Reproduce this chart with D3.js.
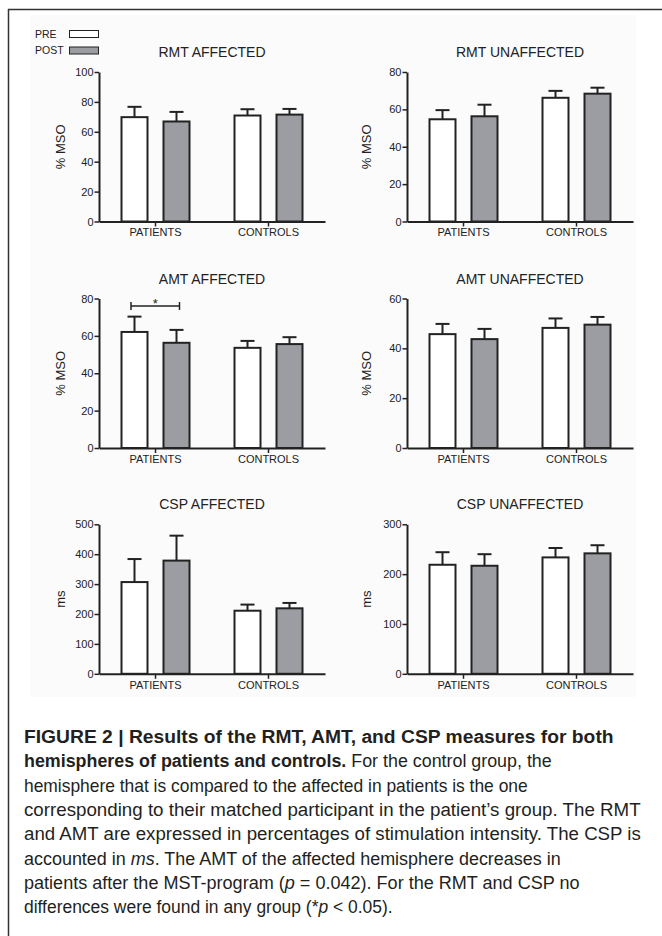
<!DOCTYPE html>
<html>
<head>
<meta charset="utf-8">
<script src="https://cdn.jsdelivr.net/npm/d3@7"></script>
<style>
  html, body { margin: 0; padding: 0; background: #fff; }
  svg { display: block; }
</style>
</head>
<body>
<svg id="fig" width="662" height="936"></svg>
<script>
// ---------------- DATA ----------------
const categories = ['PATIENTS', 'CONTROLS'];
const seriesNames = ['PRE', 'POST'];
const panelTitles = ['RMT AFFECTED', 'RMT UNAFFECTED', 'AMT AFFECTED', 'AMT UNAFFECTED', 'CSP AFFECTED', 'CSP UNAFFECTED'];
const yTitles = ['% MSO', '% MSO', '% MSO', '% MSO', 'ms', 'ms'];
const yTicks = [
  [0, 20, 40, 60, 80, 100],
  [0, 20, 40, 60, 80],
  [0, 20, 40, 60, 80],
  [0, 20, 40, 60],
  [0, 100, 200, 300, 400, 500],
  [0, 100, 200, 300]
];
// means per panel: [PATIENTS, CONTROLS]
const preMean  = [[69.8, 70.9], [54.7, 66.2], [62.1, 53.6], [45.7, 48.2], [306.8, 211.0], [218.8, 233.6]];
const preErr   = [[6.9, 4.2],   [4.9, 3.7],   [8.2, 3.7],   [4.1, 3.8],   [77.0, 20.5],   [25.2, 18.8]];
const postMean = [[66.9, 71.5], [56.3, 68.4], [56.3, 55.6], [43.7, 49.5], [378.6, 219.0], [216.8, 241.7]];
const postErr  = [[6.4, 3.8],   [6.2, 3.2],   [6.9, 3.7],   [4.1, 3.1],   [83.4, 18.0],   [23.2, 16.3]];
// significance bracket
const sigPanel = 2;
const sigCategory = 'PATIENTS';
const sigLevel = 76;
const sigLabel = '*';

// ---------------- LAYOUT ----------------
const svg = d3.select('#fig');
const FONT = "'Liberation Sans', Arial, sans-serif";
const INK = '#222';
const POSTFILL = '#9b9da2';
const colX = [99, 407];
const rowTop = [72, 298.5, 524.3];
const plotW = 226, plotH = 149.5;
const yTitleOff = [-39, -41];

// figure frame and chart background
svg.append('rect').attr('x', 30).attr('y', 15).attr('width', 606).attr('height', 682).attr('fill', '#fbfbfb');
svg.append('line').attr('x1', 8).attr('x2', 662).attr('y1', 9.5).attr('y2', 9.5).attr('stroke', '#333').attr('stroke-width', 1.5);
svg.append('line').attr('x1', 8.5).attr('x2', 8.5).attr('y1', 9).attr('y2', 936).attr('stroke', '#333').attr('stroke-width', 1.5);

// legend
const legend = svg.append('g');
seriesNames.forEach((s, i) => {
  const yy = 30.5 + i * 16.5;
  legend.append('text').attr('x', 35).attr('y', yy + 7).text(s)
    .attr('font-family', FONT).attr('font-size', 10.5).attr('fill', INK);
  legend.append('rect').attr('x', 69.5).attr('y', yy).attr('width', 29).attr('height', 7)
    .attr('fill', i === 0 ? '#fff' : POSTFILL).attr('stroke', INK).attr('stroke-width', 1);
});

panelTitles.forEach((title, i) => {
  const col = i % 2, row = Math.floor(i / 2);
  const g = svg.append('g').attr('transform', `translate(${colX[col]},${rowTop[row]})`);
  const y = d3.scaleLinear().domain([0, yTicks[i][yTicks[i].length - 1]]).range([plotH, 0]);
  const x0 = d3.scaleBand().domain(categories).range([0, plotW]);
  const x1 = d3.scaleBand().domain(seriesNames).range([0, 70]).paddingInner(1 / 3);

  const centers = {};
  categories.forEach((c, ci) => {
    seriesNames.forEach((s, si) => {
      const m = (si === 0 ? preMean : postMean)[i][ci];
      const e = (si === 0 ? preErr : postErr)[i][ci];
      const bx = x0(c) + x0.bandwidth() / 2 - 35 + x1(s);
      const cx = bx + x1.bandwidth() / 2;
      centers[c + s] = cx;
      g.append('line').attr('x1', cx).attr('x2', cx).attr('y1', y(m)).attr('y2', y(m + e))
        .attr('stroke', INK).attr('stroke-width', 2);
      g.append('line').attr('x1', cx - 7).attr('x2', cx + 7).attr('y1', y(m + e)).attr('y2', y(m + e))
        .attr('stroke', INK).attr('stroke-width', 2);
      g.append('rect').attr('x', bx + 1).attr('y', y(m)).attr('width', x1.bandwidth() - 2).attr('height', y(0) - y(m))
        .attr('fill', si === 0 ? '#fff' : POSTFILL).attr('stroke', INK).attr('stroke-width', 2);
    });
  });

  // y axis
  const ya = g.append('g').call(d3.axisLeft(y).tickValues(yTicks[i]).tickSize(4.5).tickSizeOuter(0).tickPadding(1));
  ya.select('.domain').attr('stroke', INK).attr('stroke-width', 2);
  ya.selectAll('.tick line').attr('stroke', INK).attr('stroke-width', 1.5);
  ya.selectAll('text').attr('font-family', FONT).attr('font-size', 11).attr('fill', INK);

  // x axis
  const xa = g.append('g').attr('transform', `translate(0,${plotH})`)
    .call(d3.axisBottom(x0).tickSize(5).tickSizeOuter(0).tickPadding(2));
  xa.select('.domain').attr('stroke', INK).attr('stroke-width', 2);
  xa.selectAll('.tick line').attr('stroke', INK).attr('stroke-width', 1.5);
  xa.selectAll('text').attr('font-family', FONT).attr('font-size', 11).attr('fill', INK);

  // titles
  g.append('text').attr('x', plotW / 2).attr('y', -15).attr('text-anchor', 'middle').text(title)
    .attr('font-family', FONT).attr('font-size', 14).attr('fill', INK);
  g.append('text').attr('transform', `translate(${yTitleOff[col]},${plotH / 2}) rotate(-90)`)
    .attr('dy', '0.35em').attr('text-anchor', 'middle').text(yTitles[i])
    .attr('font-family', FONT).attr('font-size', 13).attr('fill', INK);

  // significance bracket
  if (i === sigPanel) {
    const xa1 = centers[sigCategory + 'PRE'] - 3.5, xa2 = centers[sigCategory + 'POST'] + 3;
    const yy = y(sigLevel);
    g.append('line').attr('x1', xa1).attr('x2', xa2).attr('y1', yy).attr('y2', yy).attr('stroke', INK).attr('stroke-width', 1.5);
    g.append('line').attr('x1', xa1).attr('x2', xa1).attr('y1', yy - 4).attr('y2', yy + 4).attr('stroke', INK).attr('stroke-width', 1.5);
    g.append('line').attr('x1', xa2).attr('x2', xa2).attr('y1', yy - 4).attr('y2', yy + 4).attr('stroke', INK).attr('stroke-width', 1.5);
    g.append('text').attr('x', (xa1 + xa2) / 2).attr('y', yy + 2.5).attr('text-anchor', 'middle').text(sigLabel)
      .attr('font-family', FONT).attr('font-size', 13).attr('fill', INK);
  }
});

// ---------------- CAPTION ----------------
const CAPFONT = "'Liberation Sans', Arial, sans-serif";
const captionLines = [
  { w: 590, parts: [{ t: 'FIGURE 2 | Results of the RMT, AMT, and CSP measures for both', b: true }] },
  { w: 528, parts: [{ t: 'hemispheres of patients and controls.', b: true }, { t: ' For the control group, the' }] },
  { w: 504, parts: [{ t: 'hemisphere that is compared to the affected in patients is the one' }] },
  { w: 617, parts: [{ t: 'corresponding to their matched participant in the patient\u2019s group. The RMT' }] },
  { w: 617, parts: [{ t: 'and AMT are expressed in percentages of stimulation intensity. The CSP is' }] },
  { w: 537, parts: [{ t: 'accounted in ' }, { t: 'ms', i: true }, { t: '. The AMT of the affected hemisphere decreases in' }] },
  { w: 556, parts: [{ t: 'patients after the MST-program (' }, { t: 'p', i: true }, { t: ' = 0.042). For the RMT and CSP no' }] },
  { w: 369, parts: [{ t: 'differences were found in any group (*' }, { t: 'p', i: true }, { t: ' < 0.05).' }] }
];
captionLines.forEach((ln, k) => {
  const t = svg.append('text').attr('x', 0).attr('y', 0)
    .attr('font-family', CAPFONT).attr('font-size', 18.5).attr('fill', '#231f20');
  ln.parts.forEach(p => {
    t.append('tspan').text(p.t)
      .attr('font-weight', p.b ? 'bold' : 'normal')
      .attr('font-style', p.i ? 'italic' : 'normal');
  });
  const nat = t.node().getComputedTextLength();
  t.attr('transform', `translate(24,${743 + k * 24.3}) scale(${ln.w / nat},1)`);
});
</script>
</body>
</html>
